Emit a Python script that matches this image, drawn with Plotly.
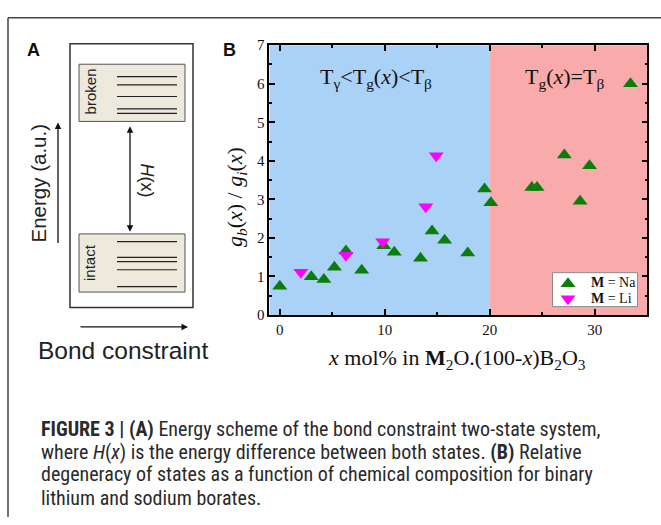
import plotly.graph_objects as go

# ---------------- data (panel B) ----------------
na_x = [0.0, 3.0, 4.2, 5.2, 6.3, 7.8, 9.9, 10.9, 13.4, 14.5, 15.7, 17.9, 19.5, 20.1, 24.0, 24.5, 27.1, 28.6, 29.5, 33.4]
na_y = [0.75, 0.99, 0.92, 1.24, 1.66, 1.16, 1.80, 1.63, 1.47, 2.18, 1.94, 1.61, 3.27, 2.91, 3.31, 3.31, 4.15, 2.95, 3.87, 6.0]
li_x = [2.0, 6.3, 9.8, 13.9, 14.9]
li_y = [1.11, 1.55, 1.90, 2.81, 4.13]
x_tickvals = [0, 10, 20, 30]
y_tickvals = [0, 1, 2, 3, 4, 5, 6, 7]
region_edges = [-1, 20, 35]
region_labels = ["T<sub>γ</sub>&lt;T<sub>g</sub>(<i>x</i>)&lt;T<sub>β</sub>", "T<sub>g</sub>(<i>x</i>)=T<sub>β</sub>"]
region_label_x = [9.2, 27.1]
region_label_y = 6.15
series_names = ["<b>M</b> = Na", "<b>M</b> = Li"]
series_colors = ["#0a7d0a", "#ff00ff"]
series_symbols = ["triangle-up", "triangle-down"]

W, H = 661, 525


def px(x):
    return x / W


def py(y):
    return 1 - y / H


SERIF = "Liberation Serif, Times New Roman, serif"
SANS = "Liberation Sans, Arial, sans-serif"
NARROW = "Roboto Condensed, Liberation Sans Narrow, Arial Narrow, sans-serif"

fig = go.Figure()

fig.add_trace(go.Scatter(
    x=na_x, y=na_y, mode="markers", name=series_names[0], showlegend=False,
    marker=dict(symbol=series_symbols[0], size=13, color=series_colors[0]),
))
fig.add_trace(go.Scatter(
    x=li_x, y=li_y, mode="markers", name=series_names[1], showlegend=False,
    marker=dict(symbol=series_symbols[1], size=13, color=series_colors[1]),
))

# legend key symbols drawn on a full-page pixel overlay axis
legend_rows = [284.5, 300.0]
fig.add_trace(go.Scatter(
    x=[568, 568], y=legend_rows, mode="markers", xaxis="x2", yaxis="y2", showlegend=False,
    hoverinfo="skip",
    marker=dict(symbol=series_symbols, size=13, color=series_colors),
))

shapes = []
# shaded regions
region_colors = ["#aad2f7", "#f9aaaa"]
for i in range(2):
    shapes.append(dict(type="rect", xref="x", yref="y domain", x0=region_edges[i], x1=region_edges[i + 1],
                       y0=0, y1=1, fillcolor=region_colors[i], line=dict(width=0), layer="below"))

# outer figure frame (top and left lines)
frame_col = "#444444"
shapes.append(dict(type="line", xref="paper", yref="paper", x0=px(8), x1=px(661), y0=py(10), y1=py(10),
                   line=dict(color=frame_col, width=1.5)))
shapes.append(dict(type="line", xref="paper", yref="paper", x0=px(8), x1=px(8), y0=py(10), y1=py(525),
                   line=dict(color=frame_col, width=1.5)))

# panel A diagram
shapes.append(dict(type="rect", xref="paper", yref="paper", x0=px(70), x1=px(193), y0=py(37), y1=py(309),
                   line=dict(color="#333333", width=1.5)))
box_fill = "#ede9dd"
for (top, bot) in [(58, 117), (233, 293)]:
    shapes.append(dict(type="rect", xref="paper", yref="paper", x0=px(79), x1=px(185), y0=py(top), y1=py(bot),
                       fillcolor=box_fill, line=dict(color="#555555", width=1)))
broken_levels = [70.7, 79.3, 91.3, 104, 108.7]
intact_levels = [241, 257.3, 261.7, 270, 287.3]
for yy in broken_levels + intact_levels:
    shapes.append(dict(type="line", xref="paper", yref="paper", x0=px(117), x1=px(177), y0=py(yy), y1=py(yy),
                       line=dict(color="#222222", width=1.2)))

# legend box (panel B)
shapes.append(dict(type="rect", xref="paper", yref="paper", x0=px(552.5), x1=px(637.5), y0=py(273), y1=py(308),
                   fillcolor="white", line=dict(color="#8a8a8a", width=1), layer="below"))

annotations = []


def arrow(x0, y0, x1, y1, both=False):
    annotations.append(dict(xref="paper", yref="paper", x=px(x1), y=py(y1), ax=x0 - x1, ay=y0 - y1,
                            axref="pixel", ayref="pixel", text="", showarrow=True,
                            arrowhead=2, arrowsize=1, arrowwidth=1.3, arrowcolor="#111111",
                            arrowside="end+start" if both else "end"))


arrow(130, 229, 130, 122, both=True)
arrow(58, 240, 58, 118)
arrow(79, 329, 188, 329)

annotations += [
    dict(xref="paper", yref="paper", x=px(33), y=py(43), text="<b>A</b>", showarrow=False,
         font=dict(family=SANS, size=18, color="#111"), xanchor="center", yanchor="middle"),
    dict(xref="paper", yref="paper", x=px(229), y=py(43), text="<b>B</b>", showarrow=False,
         font=dict(family=SANS, size=18, color="#111"), xanchor="center", yanchor="middle"),
    dict(xref="paper", yref="paper", x=px(90), y=py(86), text="broken", showarrow=False, textangle=-90,
         font=dict(family=SANS, size=15, color="#222"), xanchor="center", yanchor="middle"),
    dict(xref="paper", yref="paper", x=px(90), y=py(263), text="intact", showarrow=False, textangle=-90,
         font=dict(family=SANS, size=15, color="#222"), xanchor="center", yanchor="middle"),
    dict(xref="paper", yref="paper", x=px(147), y=py(178), text="<i>H</i>(x)", showarrow=False, textangle=90,
         font=dict(family=SANS, size=18, color="#222"), xanchor="center", yanchor="middle"),
    dict(xref="paper", yref="paper", x=px(38), y=py(181), text="Energy (a.u.)", showarrow=False, textangle=-90,
         font=dict(family=SANS, size=20.5, color="#222"), xanchor="center", yanchor="middle"),
    dict(xref="paper", yref="paper", x=px(123), y=py(353), text="Bond constraint", showarrow=False,
         font=dict(family=SANS, size=24.5, color="#222"), xanchor="center", yanchor="middle"),
    # panel B axis titles
    dict(xref="paper", yref="paper", x=px(236), y=py(195),
         text="<i>g<sub>b</sub></i>(<i>x</i>) / <i>g<sub>i</sub></i>(<i>x</i>)", showarrow=False, textangle=-90,
         font=dict(family=SERIF, size=22, color="#111"), xanchor="center", yanchor="middle"),
    dict(xref="paper", yref="paper", x=px(457), y=py(362),
         text="<i>x</i> mol% in <b>M</b><sub>2</sub>O.(100-<i>x</i>)B<sub>2</sub>O<sub>3</sub>", showarrow=False,
         font=dict(family=SERIF, size=22, color="#111"), xanchor="center", yanchor="middle"),
]
for lbl, lx in zip(region_labels, region_label_x):
    annotations.append(dict(xref="x", yref="y", x=lx, y=region_label_y, text=lbl, showarrow=False,
                            font=dict(family=SERIF, size=22, color="#111"), xanchor="center", yanchor="middle"))

# legend labels
for i, ly in enumerate([283.5, 299.5]):
    annotations.append(dict(xref="paper", yref="paper", x=px(589), y=py(ly), text=series_names[i],
                            showarrow=False, font=dict(family=SERIF, size=14, color="#111"),
                            xanchor="left", yanchor="middle"))

# caption
caption_lines = [
    "<b>FIGURE 3 | (A)</b> Energy scheme of the bond constraint two-state system,",
    "where <i>H</i>(<i>x</i>) is the energy difference between both states. <b>(B)</b> Relative",
    "degeneracy of states as a function of chemical composition for binary",
    "lithium and sodium borates.",
]
caption_y = [434, 458, 481, 505]
for t, yy in zip(caption_lines, caption_y):
    annotations.append(dict(xref="paper", yref="paper", x=px(39), y=py(yy), text=t, showarrow=False,
                            font=dict(family=NARROW, size=20, color="#2a2a2a"), xanchor="left", yanchor="middle"))

axis_common = dict(showline=True, linecolor="black", linewidth=1.5, mirror="ticks", ticks="inside",
                   tickcolor="black", tickwidth=1.5, ticklen=6, showgrid=False, zeroline=False,
                   tickfont=dict(family=SERIF, size=15, color="#111"))

fig.update_layout(
    width=W, height=H, margin=dict(l=0, r=0, t=0, b=0),
    paper_bgcolor="white", plot_bgcolor="rgba(0,0,0,0)",
    xaxis=dict(domain=[px(269.3), px(647.3)], range=region_edges[::2], tickvals=x_tickvals,
               minor=dict(ticks="inside", dtick=5, tick0=0, ticklen=3, tickcolor="black", tickwidth=1.5),
               **axis_common),
    yaxis=dict(domain=[py(316.7), py(38.3)], range=[0, 7], tickvals=y_tickvals,
               minor=dict(ticks="inside", dtick=0.5, tick0=0, ticklen=3, tickcolor="black", tickwidth=1.5),
               **axis_common),
    xaxis2=dict(domain=[0, 1], range=[0, W], visible=False, anchor="y2", fixedrange=True),
    yaxis2=dict(domain=[0, 1], range=[H, 0], visible=False, anchor="x2", fixedrange=True),
    showlegend=False,
    shapes=shapes, annotations=annotations,
)

fig.write_html("out.html")
